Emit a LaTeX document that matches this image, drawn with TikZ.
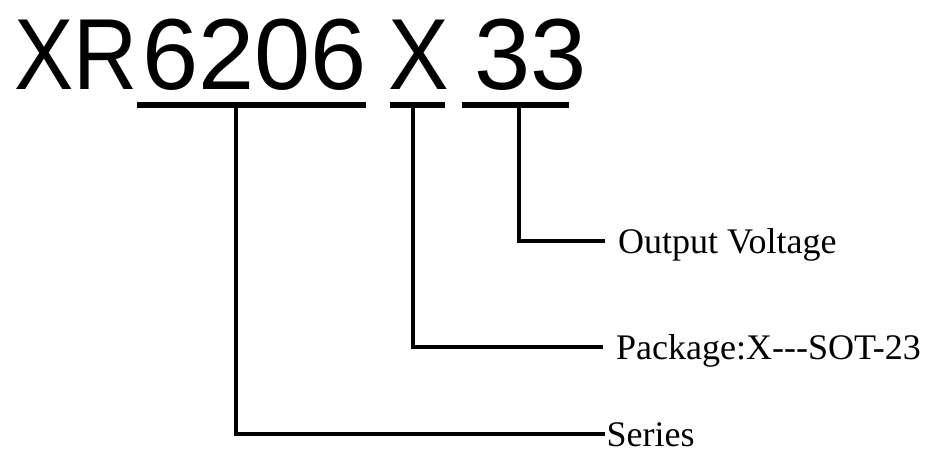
\documentclass[tikz,border=0pt]{standalone}
\usepackage{fontspec}
\setmainfont{Liberation Serif}
\newfontfamily\bigsans{Liberation Sans}
\begin{document}
\begin{tikzpicture}[x=1pt,y=-1pt,
  big/.style={font=\bigsans\fontsize{101}{101}\selectfont, inner sep=0pt, anchor=base west},
  lab/.style={font=\fontsize{36}{36}\selectfont, inner ysep=0pt, inner xsep=13pt, anchor=west, text height=24pt, text depth=0pt},
  uline/.style={line width=6.7pt},
  conn/.style={line width=3.4pt}]
\useasboundingbox (0,0) rectangle (928,453);
% big part number
\node[big] (xr) at (14,89) {\scalebox{0.88}[1]{XR}};
\node[big] (ser6206) at (142,89) {6206};
\node[big] (pkgx) at (388,89) {\scalebox{0.9}[1]{X}};
\node[big] (volt) at (474,89) {33};
% underlines
\coordinate (u1a) at (137,105); \coordinate (u1b) at (366,105);
\coordinate (u2a) at (390,105); \coordinate (u2b) at (445,105);
\coordinate (u3a) at (462,105); \coordinate (u3b) at (569,105);
\draw[uline] (u1a) -- (u1b);
\draw[uline] (u2a) -- (u2b);
\draw[uline] (u3a) -- (u3b);
\coordinate (c1) at (236,105);
\coordinate (c2) at (413,105);
\coordinate (c3) at (519,105);
% labels
\node[lab] (ov) at (605,241) {Output Voltage};
\node[lab] (pk) at (603,347) {Package:X-{}-{}-SOT-23};
\node[lab, inner xsep=1.5pt] (se) at (605,434) {Series};
% connectors
\draw[conn] (c3) |- (ov.west);
\draw[conn] (c2) |- (pk.west);
\draw[conn] (c1) |- (se.west);
\end{tikzpicture}
\end{document}
